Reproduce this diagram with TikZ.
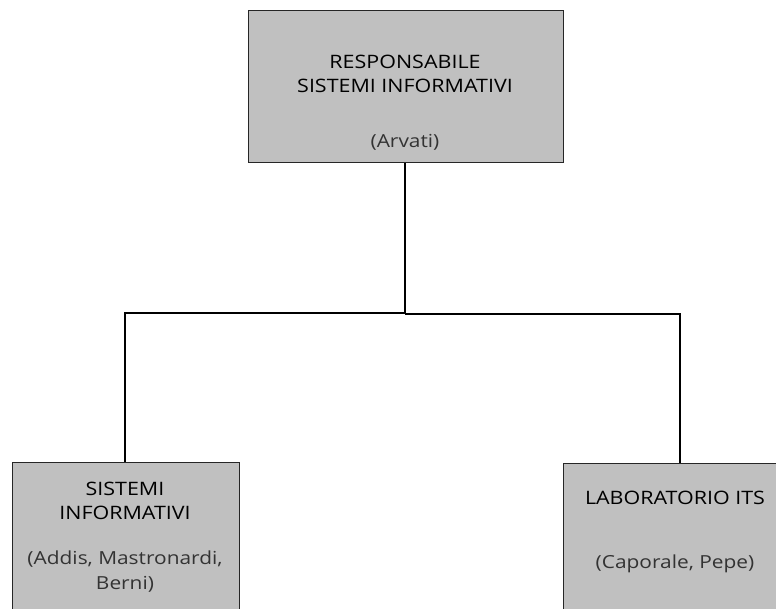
\documentclass[tikz,border=0pt]{standalone}
\usepackage{fontspec}
\setmainfont[FakeStretch=1.16]{Open Sans}
\begin{document}
\begin{tikzpicture}[x=1pt,y=1pt,
  box/.style={draw=black!85,line width=0.9pt,fill=boxgray,inner sep=0pt},
  title/.style={font=\fontsize{18.5}{24.5}\selectfont,text=black,align=center,inner sep=0pt},
  names/.style={font=\fontsize{18}{25}\selectfont,text=black!80,align=center,inner sep=0pt},
  conn/.style={draw=black,line width=1.3pt}]
\definecolor{boxgray}{HTML}{C0C0C0}
\useasboundingbox (0,0) rectangle (776,609);
\clip (0,0) rectangle (776,609);
% boxes
\node[box,minimum width=315pt,minimum height=152pt,anchor=north west] (top) at (248,599) {};
\node[box,minimum width=227pt,minimum height=160pt,anchor=north west] (left) at (12,147) {};
\node[box,minimum width=230pt,minimum height=160pt,anchor=north west] (right) at (563,146) {};
% texts
\node[title] (t1) at (405,535) {RESPONSABILE\\SISTEMI INFORMATIVI};
\node[names] (n1) at (405,467) {(Arvati)};
\node[title] (t2) at (125,108) {SISTEMI\\INFORMATIVI};
\node[names] (n2) at (125,37) {(Addis, Mastronardi,\\Berni)};
\node[title] (t3) at (675,111) {LABORATORIO ITS};
\node[names] (n3) at (675,45) {(Caporale, Pepe)};
% connectors
\coordinate (j) at (405,296);
\coordinate (jl) at (125,296);
\coordinate (jr) at (680,295);
\draw[conn] (top.south -| j) -- (j);
\draw[conn] (j) -- (jl) -- (jl |- left.north);
\draw[conn] (j |- jr) -- (jr) -- (jr |- right.north);
\end{tikzpicture}
\end{document}
